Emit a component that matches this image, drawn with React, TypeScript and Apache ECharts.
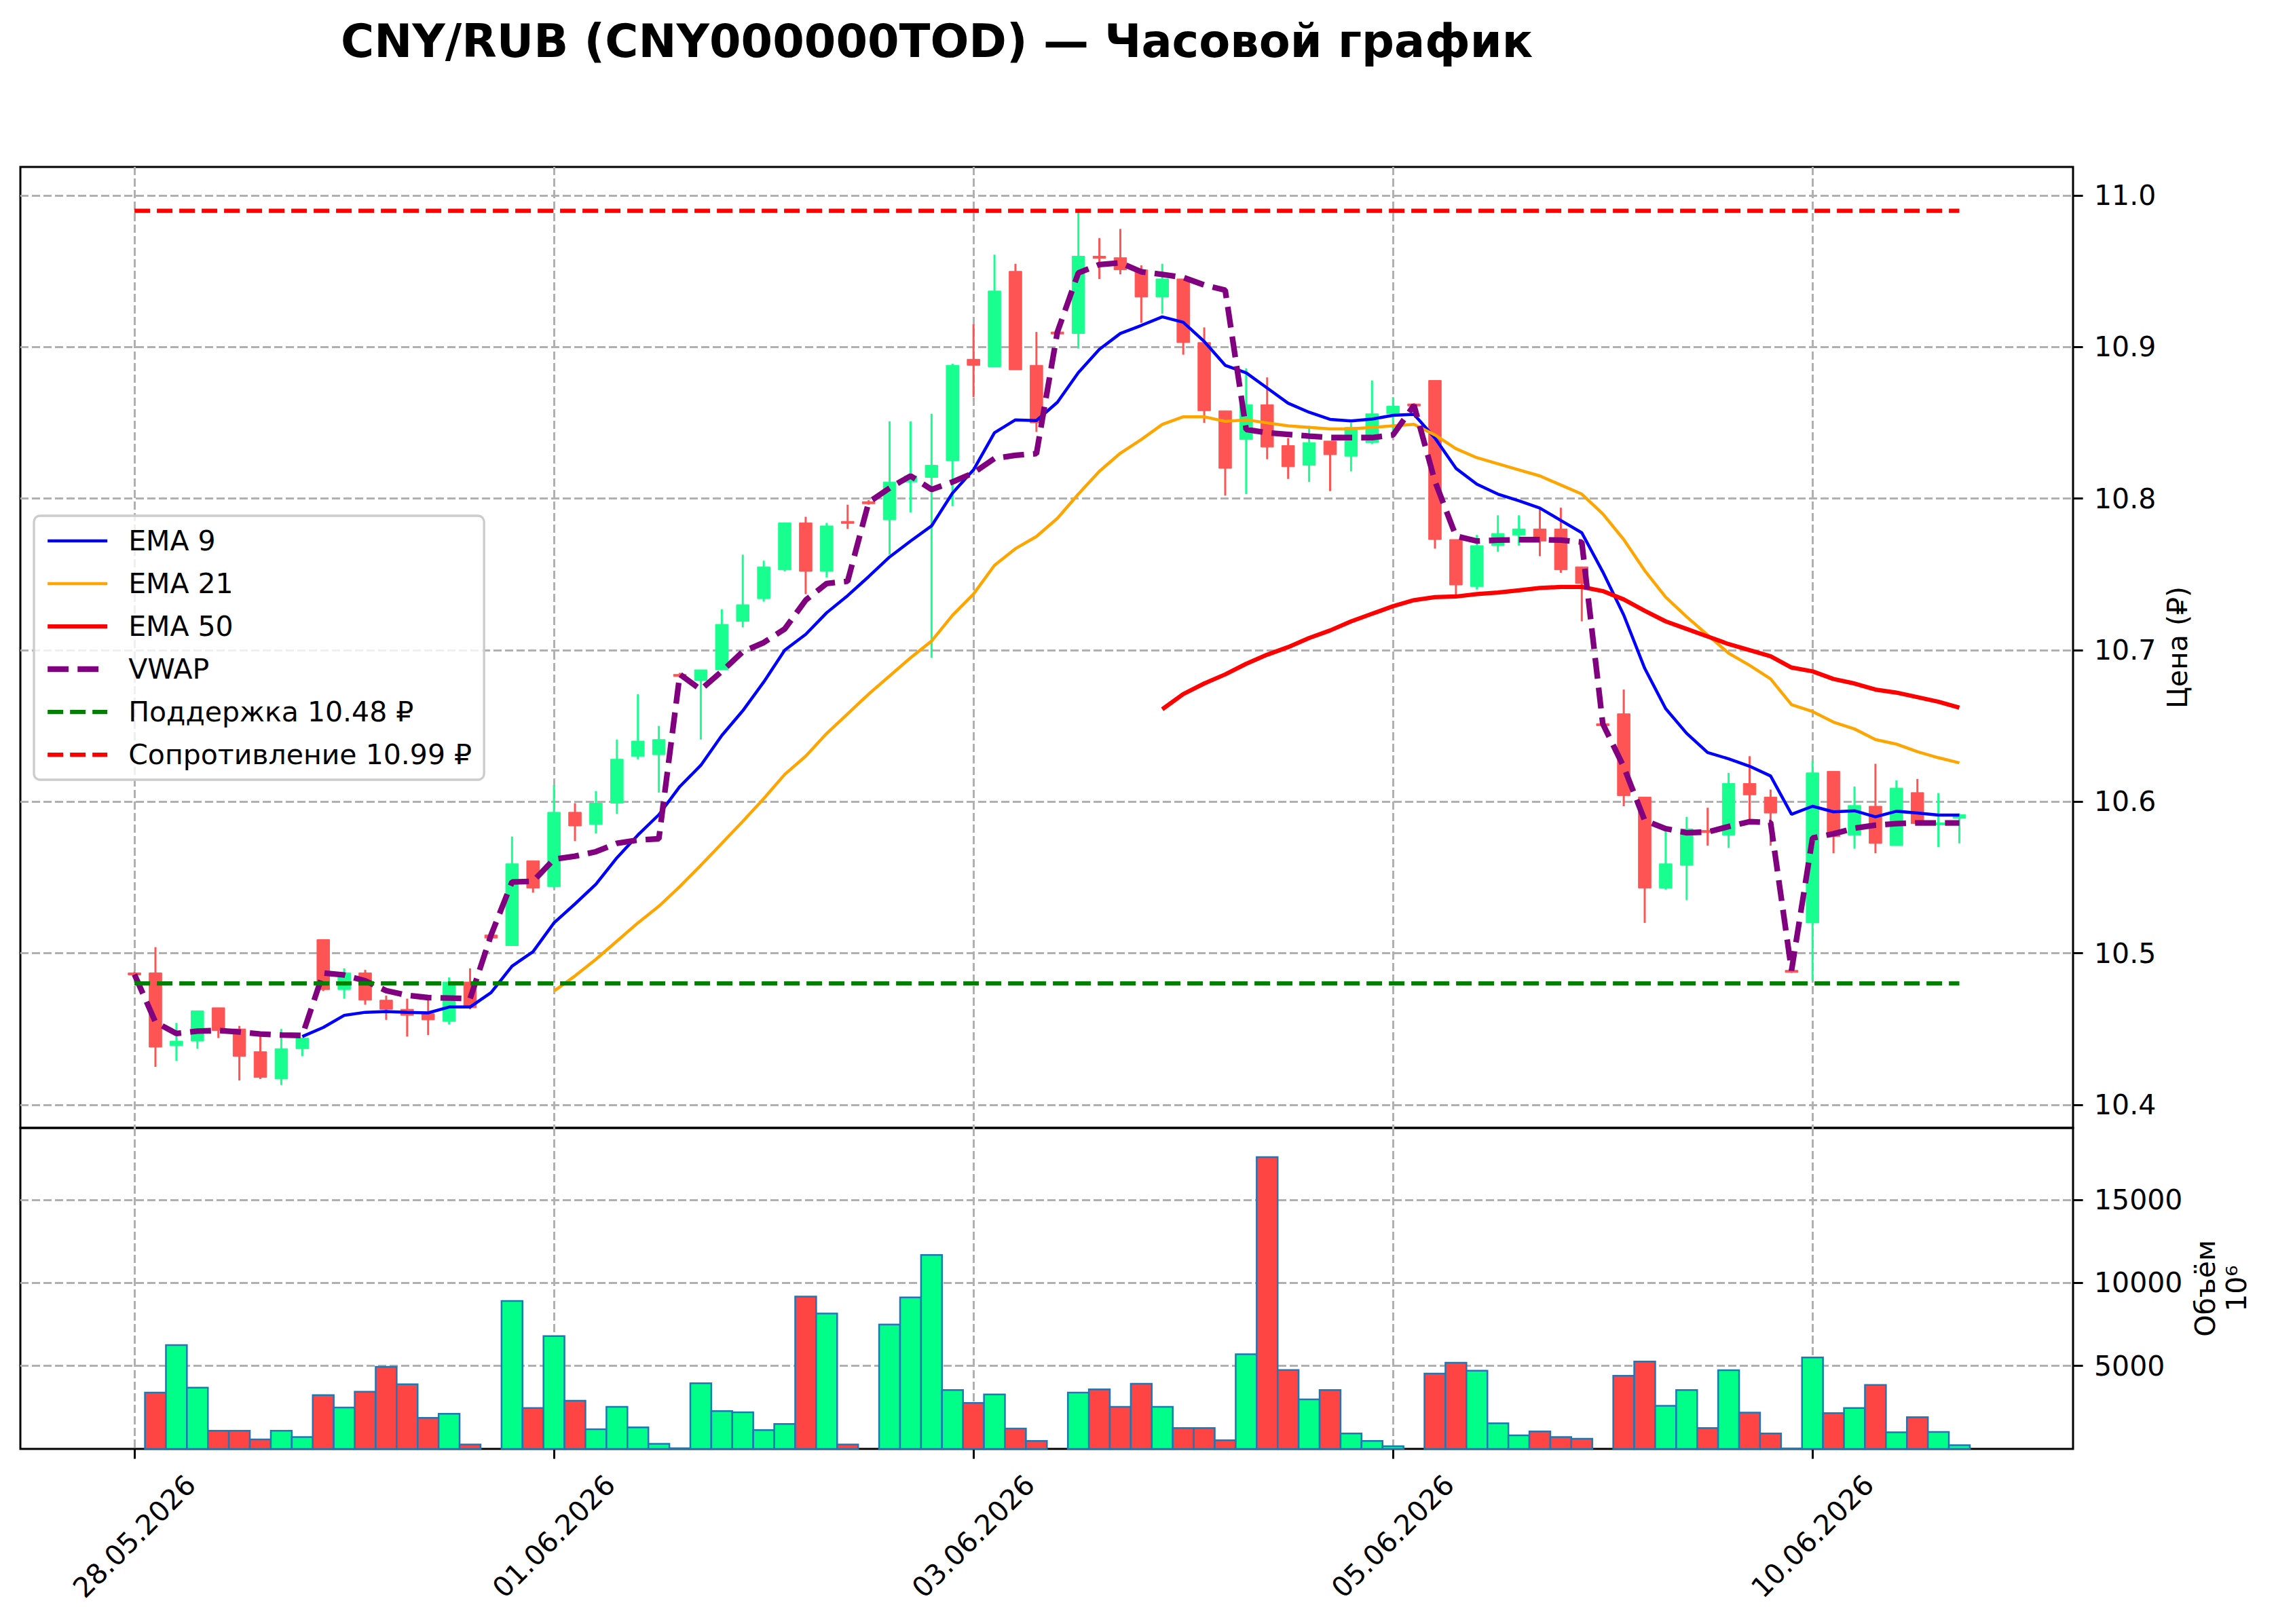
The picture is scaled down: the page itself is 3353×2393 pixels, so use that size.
import React, { useEffect, useRef } from "react";
import * as echarts from "echarts";

// ---------- data ----------
const dateTickIdx = [0, 20, 40, 60, 80];
const dateLabels = ["28.05.2026", "01.06.2026", "03.06.2026", "05.06.2026", "10.06.2026"];
const priceTicks = [10.4, 10.5, 10.6, 10.7, 10.8, 10.9, 11.0];
const volumeTicks = [5000, 10000, 15000];

const open = [
  10.487, 10.487, 10.439, 10.442, 10.464, 10.45, 10.435, 10.417, 10.437, 10.509,
  10.476, 10.487, 10.469, 10.463, 10.46, 10.455, 10.481, 10.512, 10.505, 10.561,
  10.544, 10.593, 10.585, 10.599, 10.63, 10.631, 10.684, 10.68, 10.687, 10.719,
  10.734, 10.753, 10.784, 10.752, 10.785, 10.798, 10.786, 10.811, 10.814, 10.825,
  10.892, 10.887, 10.95, 10.888, 10.91, 10.909, 10.96, 10.959, 10.951, 10.933,
  10.945, 10.903, 10.858, 10.839, 10.862, 10.835, 10.822, 10.838, 10.828, 10.837,
  10.856, 10.8625, 10.878, 10.773, 10.742, 10.769, 10.776, 10.78, 10.78, 10.755,
  10.6515, 10.658, 10.603, 10.543, 10.558, 10.581, 10.578, 10.612, 10.603, 10.4887,
  10.52, 10.62, 10.578, 10.597, 10.571, 10.606, 10.5855, 10.589,
];
const close = [
  10.486, 10.438, 10.442, 10.462, 10.449, 10.432, 10.418, 10.437, 10.444, 10.476,
  10.487, 10.469, 10.463, 10.459, 10.456, 10.481, 10.464, 10.51, 10.559, 10.543,
  10.593, 10.584, 10.599, 10.628, 10.64, 10.641, 10.683, 10.687, 10.717, 10.73,
  10.755, 10.784, 10.752, 10.782, 10.784, 10.797, 10.811, 10.815, 10.822, 10.888,
  10.888, 10.937, 10.885, 10.85, 10.909, 10.96, 10.959, 10.951, 10.933, 10.945,
  10.903, 10.858, 10.82, 10.862, 10.834, 10.821, 10.837, 10.829, 10.847, 10.856,
  10.861, 10.862, 10.773, 10.743, 10.769, 10.777, 10.78, 10.772, 10.753, 10.744,
  10.651, 10.604, 10.543, 10.559, 10.582, 10.58, 10.612, 10.6045, 10.5925, 10.488,
  10.619, 10.577, 10.5975, 10.5725, 10.609, 10.5855, 10.586, 10.5915,
];
const low = [
  10.485, 10.425, 10.429, 10.437, 10.444, 10.416, 10.417, 10.413, 10.432, 10.475,
  10.47, 10.466, 10.456, 10.445, 10.446, 10.453, 10.463, 10.509, 10.505, 10.54,
  10.543, 10.574, 10.579, 10.592, 10.628, 10.606, 10.682, 10.641, 10.687, 10.715,
  10.732, 10.752, 10.737, 10.748, 10.78, 10.796, 10.763, 10.791, 10.695, 10.795,
  10.867, 10.887, 10.885, 10.844, 10.908, 10.899, 10.945, 10.948, 10.916, 10.922,
  10.895, 10.85, 10.802, 10.803, 10.826, 10.813, 10.811, 10.805, 10.818, 10.836,
  10.84, 10.861, 10.767, 10.736, 10.74, 10.765, 10.769, 10.762, 10.751, 10.719,
  10.65, 10.597, 10.52, 10.542, 10.535, 10.571, 10.5695, 10.586, 10.571, 10.487,
  10.482, 10.566, 10.569, 10.566, 10.571, 10.5855, 10.57, 10.5725,
];
const high = [
  10.488, 10.504, 10.454, 10.462, 10.464, 10.452, 10.446, 10.45, 10.444, 10.509,
  10.49, 10.489, 10.472, 10.47, 10.471, 10.484, 10.49, 10.513, 10.577, 10.561,
  10.611, 10.599, 10.607, 10.641, 10.671, 10.65, 10.685, 10.687, 10.727, 10.763,
  10.759, 10.784, 10.788, 10.784, 10.796, 10.799, 10.851, 10.851, 10.856, 10.889,
  10.915, 10.961, 10.955, 10.91, 10.911, 10.99, 10.972, 10.978, 10.954, 10.955,
  10.945, 10.913, 10.858, 10.886, 10.88, 10.84, 10.848, 10.838, 10.85, 10.878,
  10.867, 10.863, 10.878, 10.773, 10.776, 10.789, 10.789, 10.794, 10.794, 10.755,
  10.652, 10.674, 10.603, 10.582, 10.59, 10.596, 10.619, 10.63, 10.608, 10.489,
  10.627, 10.62, 10.61, 10.625, 10.614, 10.615, 10.6057, 10.5922,
];
const volume = [
  0, 3390, 6260, 3690, 1090, 1090, 570, 1090, 720, 3240,
  2490, 3440, 4950, 3890, 1870, 2120, 270, 0, 8910, 2460,
  6800, 2900, 1190, 2530, 1300, 310, 40, 3960, 2280, 2210,
  1130, 1500, 9180, 8160, 270, 0, 7490, 9130, 11680, 3550,
  2770, 3280, 1230, 480, 0, 3390, 3590, 2530, 3930, 2530,
  1260, 1260, 520, 5700, 17580, 4750, 2980, 3550, 930, 480,
  160, 0, 4540, 5190, 4710, 1540, 820, 1050, 720, 610,
  0, 4410, 5260, 2600, 3550, 1260, 4740, 2190, 930, 10,
  5510, 2160, 2460, 3850, 1000, 1910, 1020, 230,
];
const ema9 = [
  null, null, null, null, null, null, null, null, 10.445, 10.451,
  10.459, 10.461, 10.4615, 10.461, 10.4606, 10.4645, 10.4645, 10.474, 10.4915, 10.501,
  10.52, 10.5325, 10.5455, 10.563, 10.578, 10.5914, 10.61, 10.624, 10.6437, 10.66,
  10.679, 10.7, 10.7104, 10.7247, 10.736, 10.7485, 10.7615, 10.772, 10.782, 10.8037,
  10.819, 10.8435, 10.852, 10.8515, 10.8636, 10.8832, 10.8985, 10.909, 10.9143, 10.92,
  10.9164, 10.9037, 10.888, 10.883, 10.873, 10.863, 10.857, 10.8523, 10.8513, 10.8525,
  10.855, 10.8556, 10.84, 10.82, 10.8095, 10.803, 10.7986, 10.7938, 10.7856, 10.7775,
  10.7517, 10.7232, 10.688, 10.6614, 10.6451, 10.6324, 10.6283, 10.6234, 10.617, 10.5917,
  10.597, 10.5933, 10.594, 10.59, 10.5937, 10.5925, 10.5912, 10.5912,
];
const ema21 = [
  null, null, null, null, null, null, null, null, null, null,
  null, null, null, null, null, null, null, null, null, null,
  10.475, 10.485, 10.496, 10.508, 10.52, 10.531, 10.544, 10.558, 10.5725, 10.587,
  10.602, 10.618, 10.63, 10.645, 10.658, 10.671, 10.683, 10.695, 10.706, 10.723,
  10.737, 10.756, 10.767, 10.775, 10.787, 10.803, 10.818, 10.83, 10.839, 10.849,
  10.854, 10.854, 10.851, 10.852, 10.85, 10.848, 10.847, 10.846, 10.846, 10.847,
  10.848, 10.849, 10.842, 10.833, 10.827, 10.823, 10.819, 10.815, 10.809, 10.803,
  10.79, 10.773, 10.7525, 10.735, 10.722, 10.71, 10.698, 10.69, 10.681, 10.664,
  10.6595, 10.6525, 10.648, 10.641, 10.638, 10.633, 10.629, 10.6256,
];
const ema50 = [
  null, null, null, null, null, null, null, null, null, null,
  null, null, null, null, null, null, null, null, null, null,
  null, null, null, null, null, null, null, null, null, null,
  null, null, null, null, null, null, null, null, null, null,
  null, null, null, null, null, null, null, null, null, 10.661,
  10.671, 10.678, 10.684, 10.691, 10.697, 10.702, 10.708, 10.713, 10.719, 10.724,
  10.729, 10.733, 10.735, 10.7354, 10.737, 10.738, 10.7395, 10.741, 10.7417, 10.7417,
  10.739, 10.7335, 10.726, 10.719, 10.714, 10.709, 10.704, 10.7, 10.696, 10.6885,
  10.686, 10.681, 10.678, 10.674, 10.672, 10.669, 10.666, 10.662,
];
const vwap = [
  10.486, 10.4545, 10.447, 10.4486, 10.449, 10.448, 10.4467, 10.446, 10.4457, 10.487,
  10.4856, 10.4818, 10.4753, 10.4722, 10.4707, 10.4704, 10.47, 10.512, 10.547, 10.5474,
  10.562, 10.564, 10.567, 10.5725, 10.5747, 10.5755, 10.684, 10.674, 10.686, 10.699,
  10.705, 10.714, 10.733, 10.744, 10.7455, 10.7975, 10.807, 10.815, 10.806, 10.811,
  10.817, 10.8265, 10.8286, 10.8297, 10.91, 10.949, 10.9545, 10.9556, 10.9497, 10.948,
  10.946, 10.941, 10.9376, 10.8456, 10.8435, 10.8424, 10.8413, 10.8403, 10.8403, 10.8403,
  10.842, 10.8616, 10.8114, 10.7753, 10.772, 10.7726, 10.7729, 10.7729, 10.7726, 10.7713,
  10.6514, 10.623, 10.5876, 10.5822, 10.5795, 10.58, 10.5836, 10.5868, 10.5863, 10.4886,
  10.576, 10.5788, 10.5825, 10.5845, 10.5855, 10.586, 10.586, 10.586,
];
const supportLevel = 10.48;
const resistanceLevel = 10.99;

// ---------- styling / layout ----------
const W = 3353;
const H = 2393;
const FONT = "DejaVu Sans";
const GREEN_C = "#19ff8f";
const RED_C = "#ff5454";
const GREEN_V = "#00ff88";
const RED_V = "#ff4444";
const GRID_LINE = { color: "#b0b0b0", width: 3, type: [12, 5] as number[] };
const X_MIN = -5.44;
const X_MAX = 92.42;
const Y_MIN = 10.3847;
const Y_MAX = 11.0189;
const V_MAX = 19340;
const TICK = { show: true, length: 14.6, lineStyle: { color: "#000", width: 3 } };

// line definitions: name, values, colour, width, dash
const lineDefs: [string, (number | null)[], string, number, any, number][] = [];

function buildOption() {
  const n = open.length;
  const idx = Array.from({ length: n }, (_, i) => i);
  const toLine = (arr: (number | null)[]) =>
    arr.map((v, i) => [i, v]).filter((p) => p[1] !== null);
  const levelLine = (level: number) => [level].concat(Array(n - 2).fill(null), [level]) as (number | null)[];

  const defs: { name: string; arr: (number | null)[]; color: string; width: number; type: any; z: number }[] = [
    { name: "EMA 9", arr: ema9, color: "#0000ff", width: 4.5, type: "solid", z: 3 },
    { name: "EMA 21", arr: ema21, color: "#ffa500", width: 4.5, type: "solid", z: 3 },
    { name: "EMA 50", arr: ema50, color: "#ff0000", width: 6.25, type: "solid", z: 3 },
    { name: "VWAP", arr: vwap, color: "#800080", width: 8.33, type: [30.8, 13.3], z: 4 },
    { name: "Поддержка 10.48 ₽", arr: levelLine(supportLevel), color: "#008000", width: 6.25, type: [23, 10], z: 4 },
    { name: "Сопротивление 10.99 ₽", arr: levelLine(resistanceLevel), color: "#ff0000", width: 6.25, type: [23, 10], z: 4 },
  ];

  const lineSeries = defs.map((d) => ({
    type: "line",
    name: d.name,
    xAxisIndex: 0,
    yAxisIndex: 0,
    data: toLine(d.arr),
    symbol: "none",
    showSymbol: false,
    lineStyle: { color: d.color, width: d.width, type: d.type },
    itemStyle: { color: d.color },
    z: d.z,
    silent: true,
  }));

  return {
    animation: false,
    backgroundColor: "#ffffff",
    textStyle: { fontFamily: FONT },
    title: {
      text: "CNY/RUB (CNY000000TOD) — Часовой график",
      left: 497,
      top: 22,
      textStyle: { fontFamily: FONT, fontSize: 67, fontWeight: "bold", color: "#000" },
    },
    legend: {
      orient: "vertical",
      left: 50,
      top: 760,
      data: defs.map((d) => ({
        name: d.name,
        itemStyle: { opacity: 0, borderWidth: 0 },
        lineStyle: { color: d.color, width: d.width, type: d.type, inherit: false },
      })),
      itemWidth: 88,
      itemHeight: 20,
      itemGap: 13,
      itemStyle: { opacity: 0, borderWidth: 0 },
      textStyle: { fontFamily: FONT, fontSize: 41, color: "#000", lineHeight: 50, padding: [0, 0, 0, 26] },
      backgroundColor: "rgba(255,255,255,0.8)",
      borderColor: "#cccccc",
      borderWidth: 3.3,
      borderRadius: 9,
      padding: [12, 18, 12, 16],
      z: 10,
    },
    grid: [
      { left: 30, top: 246, width: 3024, height: 1416, show: true, borderColor: "#000", borderWidth: 3, backgroundColor: "transparent" },
      { left: 30, top: 1662, width: 3024, height: 473, show: true, borderColor: "#000", borderWidth: 3, backgroundColor: "transparent" },
    ],
    xAxis: [
      {
        type: "value",
        gridIndex: 0,
        min: X_MIN,
        max: X_MAX,
        axisLine: { show: false, onZero: false },
        axisTick: { show: false, customValues: dateTickIdx },
        axisLabel: { show: false, customValues: dateTickIdx },
        splitLine: { show: true, lineStyle: GRID_LINE },
      },
      {
        type: "value",
        gridIndex: 1,
        min: X_MIN,
        max: X_MAX,
        axisLine: { show: false, onZero: false },
        axisTick: { ...TICK, customValues: dateTickIdx },
        axisLabel: {
          show: true,
          customValues: dateTickIdx,
          formatter: (v: number) => {
            const k = dateTickIdx.indexOf(Math.round(v));
            return k >= 0 ? dateLabels[k] : "";
          },
          rotate: 45,
          align: "center",
          verticalAlign: "middle",
          margin: 129,
          fontFamily: FONT,
          fontSize: 41,
          color: "#000",
        },
        splitLine: { show: true, lineStyle: GRID_LINE },
      },
    ],
    yAxis: [
      {
        type: "value",
        gridIndex: 0,
        position: "right",
        min: Y_MIN,
        max: Y_MAX,
        name: "Цена (₽)",
        nameLocation: "middle",
        nameRotate: 90,
        nameGap: 128,
        nameTextStyle: { fontFamily: FONT, fontSize: 41, color: "#000" },
        axisLine: { show: false, onZero: false },
        axisTick: { ...TICK, customValues: priceTicks },
        axisLabel: {
          customValues: priceTicks,
          formatter: (v: number) => v.toFixed(1),
          margin: 31,
          fontFamily: FONT,
          fontSize: 41,
          color: "#000",
        },
        splitLine: { show: true, lineStyle: GRID_LINE },
      },
      {
        type: "value",
        gridIndex: 1,
        position: "right",
        min: 0,
        max: V_MAX,
        name: "Объём\n10⁶",
        nameLocation: "middle",
        nameRotate: 90,
        nameGap: 168,
        nameTextStyle: { fontFamily: FONT, fontSize: 41, color: "#000", lineHeight: 46 },
        axisLine: { show: false, onZero: false },
        axisTick: { ...TICK, customValues: volumeTicks },
        axisLabel: {
          customValues: volumeTicks,
          formatter: (v: number) => String(Math.round(v)),
          margin: 31,
          fontFamily: FONT,
          fontSize: 41,
          color: "#000",
        },
        splitLine: { show: true, lineStyle: GRID_LINE },
      },
    ],
    series: [
      {
        type: "custom",
        name: "candles",
        xAxisIndex: 0,
        yAxisIndex: 0,
        silent: true,
        z: 2,
        data: idx.map((i) => [i, open[i], close[i], low[i], high[i]]),
        encode: { x: 0, y: [1, 2, 3, 4] },
        renderItem: (_params: any, api: any) => {
          const x = api.value(0);
          const o = api.value(1);
          const c = api.value(2);
          const l = api.value(3);
          const h = api.value(4);
          const color = c >= o ? GREEN_C : RED_C;
          const pL = api.coord([x, l]);
          const pH = api.coord([x, h]);
          const pT = api.coord([x - 0.3, Math.max(o, c)]);
          const pB = api.coord([x + 0.3, Math.min(o, c)]);
          const bh = Math.max(pB[1] - pT[1], 3);
          return {
            type: "group",
            children: [
              { type: "line", shape: { x1: pL[0], y1: pL[1], x2: pH[0], y2: pH[1] }, style: { stroke: color, lineWidth: 3 } },
              { type: "rect", shape: { x: pT[0], y: pT[1], width: pB[0] - pT[0], height: bh }, style: { fill: color, stroke: color, lineWidth: 1 } },
            ],
          };
        },
      },
      {
        type: "custom",
        name: "volume",
        xAxisIndex: 1,
        yAxisIndex: 1,
        silent: true,
        z: 2,
        data: idx.map((i) => [i, volume[i], close[i] >= open[i] ? 1 : 0]),
        encode: { x: 0, y: 1 },
        renderItem: (_params: any, api: any) => {
          const x = api.value(0);
          const v = api.value(1);
          if (!v) return null;
          const up = api.value(2) === 1;
          const pT = api.coord([x - 0.5, v]);
          const pB = api.coord([x + 0.5, 0]);
          return {
            type: "rect",
            shape: { x: pT[0], y: pT[1], width: pB[0] - pT[0], height: pB[1] - pT[1] },
            style: { fill: up ? GREEN_V : RED_V, stroke: "#1f77b4", lineWidth: 2.5 },
          };
        },
      },
      ...lineSeries,
    ],
  };
}

export default function App() {
  const ref = useRef<HTMLDivElement>(null);
  useEffect(() => {
    if (!ref.current) return;
    const chart = echarts.init(ref.current, null, { renderer: "svg", width: W, height: H });
    chart.setOption(buildOption() as any);
    return () => chart.dispose();
  }, []);
  return <div ref={ref} style={{ position: "absolute", left: 0, top: 0, width: W, height: H }} />;
}
